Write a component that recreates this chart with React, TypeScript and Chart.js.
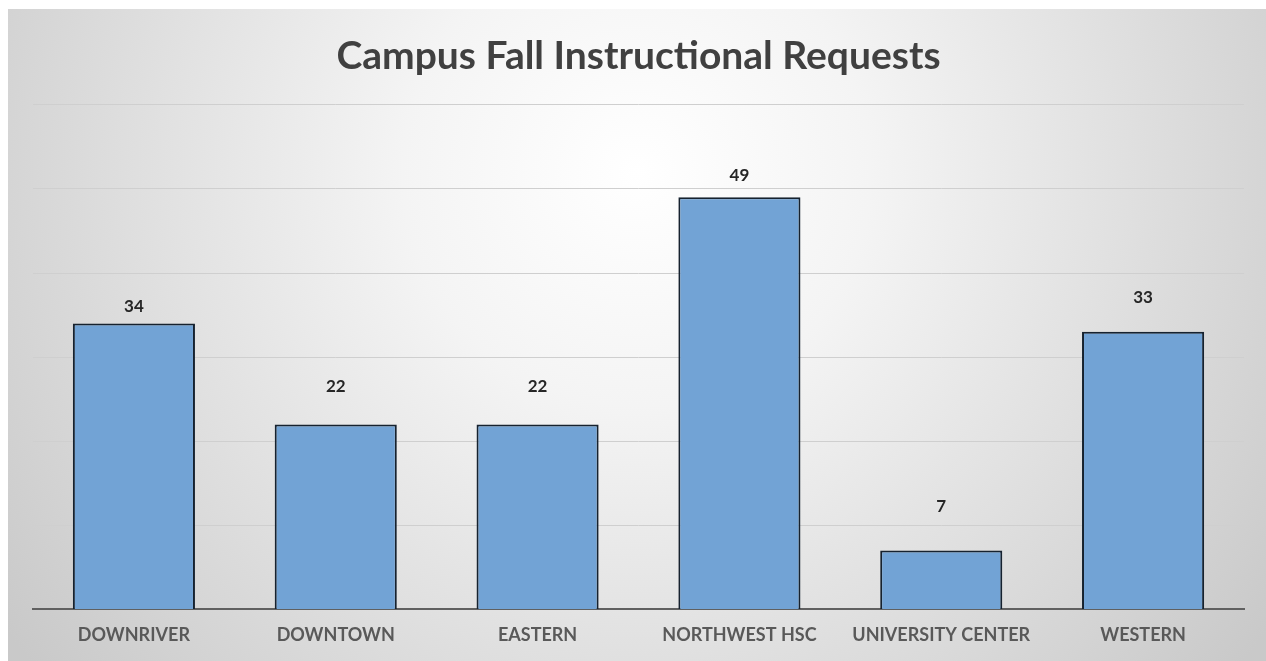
import React, { useEffect, useRef } from "react";
import { Chart, registerables } from "chart.js";

Chart.register(...registerables);

const categories = ["DOWNRIVER", "DOWNTOWN", "EASTERN", "NORTHWEST HSC", "UNIVERSITY CENTER", "WESTERN"];
const requests = [34, 22, 22, 49, 7, 33];
const yTicks = [0, 10, 20, 30, 40, 50, 60];
const titleText = "Campus Fall Instructional Requests";

// pixel gap between each bar's top and its value label (labels were hand-placed in the original)
const labelGaps = [17, 38, 38, 22, 44, 34];

const FONT = "Lato, 'Open Sans', sans-serif";

const bgPlugin = {
  id: "radialBg",
  beforeDraw(chart: any) {
    const { ctx, width, height } = chart;
    ctx.save();
    const g = ctx.createRadialGradient(width * 0.5, height * 0.25, 0, width * 0.5, height * 0.25, width * 0.62);
    g.addColorStop(0, "#ffffff");
    g.addColorStop(0.3, "#f4f4f4");
    g.addColorStop(1, "#c9c9c9");
    ctx.fillStyle = g;
    ctx.fillRect(0, 0, width, height);
    ctx.restore();
  },
};

const labelPlugin = {
  id: "valueLabels",
  afterDatasetsDraw(chart: any) {
    const { ctx } = chart;
    const meta = chart.getDatasetMeta(0);
    ctx.save();
    ctx.font = `bold 17px ${FONT}`;
    ctx.fillStyle = "#262626";
    ctx.textAlign = "center";
    ctx.textBaseline = "middle";
    meta.data.forEach((bar: any, i: number) => {
      ctx.fillText(String(chart.data.datasets[0].data[i]), bar.x, bar.y - labelGaps[i]);
    });
    ctx.restore();
  },
};

export default function App() {
  const ref = useRef<HTMLCanvasElement | null>(null);
  useEffect(() => {
    if (!ref.current) return;
    const chart = new Chart(ref.current, {
      type: "bar",
      data: {
        labels: categories,
        datasets: [
          {
            data: requests,
            backgroundColor: "#72a3d5",
            borderColor: "#16222f",
            borderWidth: 2,
            categoryPercentage: 1,
            barPercentage: 0.605,
          },
        ],
      },
      options: {
        responsive: false,
        animation: false,
        layout: { padding: { left: 25, right: 22, top: 0, bottom: 0 } },
        plugins: {
          legend: { display: false },
          tooltip: { enabled: false },
          title: {
            display: true,
            text: titleText,
            color: "#404040",
            font: { family: FONT, size: 39, weight: "bold" },
            padding: { top: 24, bottom: 25 },
          },
        },
        scales: {
          x: {
            grid: { display: false, drawTicks: false },
            border: { display: true, color: "#606060", width: 2 },
            ticks: {
              color: "#595959",
              font: { family: FONT, size: 18, weight: "bold" },
              padding: 15,
              maxRotation: 0,
            },
          },
          y: {
            min: 0,
            max: 60,
            afterBuildTicks(axis: any) {
              axis.ticks = yTicks.map((v) => ({ value: v }));
            },
            afterFit(axis: any) {
              axis.width = 0;
            },
            ticks: { display: false },
            border: { display: false },
            grid: {
              drawTicks: false,
              color: (c: any) => (c.tick && c.tick.value === 0 ? "rgba(0,0,0,0)" : "#cfcfcf"),
              lineWidth: 1,
            },
          },
        },
      },
      plugins: [bgPlugin, labelPlugin],
    });
    return () => chart.destroy();
  }, []);
  return (
    <div style={{ position: "fixed", left: 8, top: 9, width: 1258, height: 652 }}>
      <canvas ref={ref} width={1258} height={652} style={{ display: "block" }} />
    </div>
  );
}
